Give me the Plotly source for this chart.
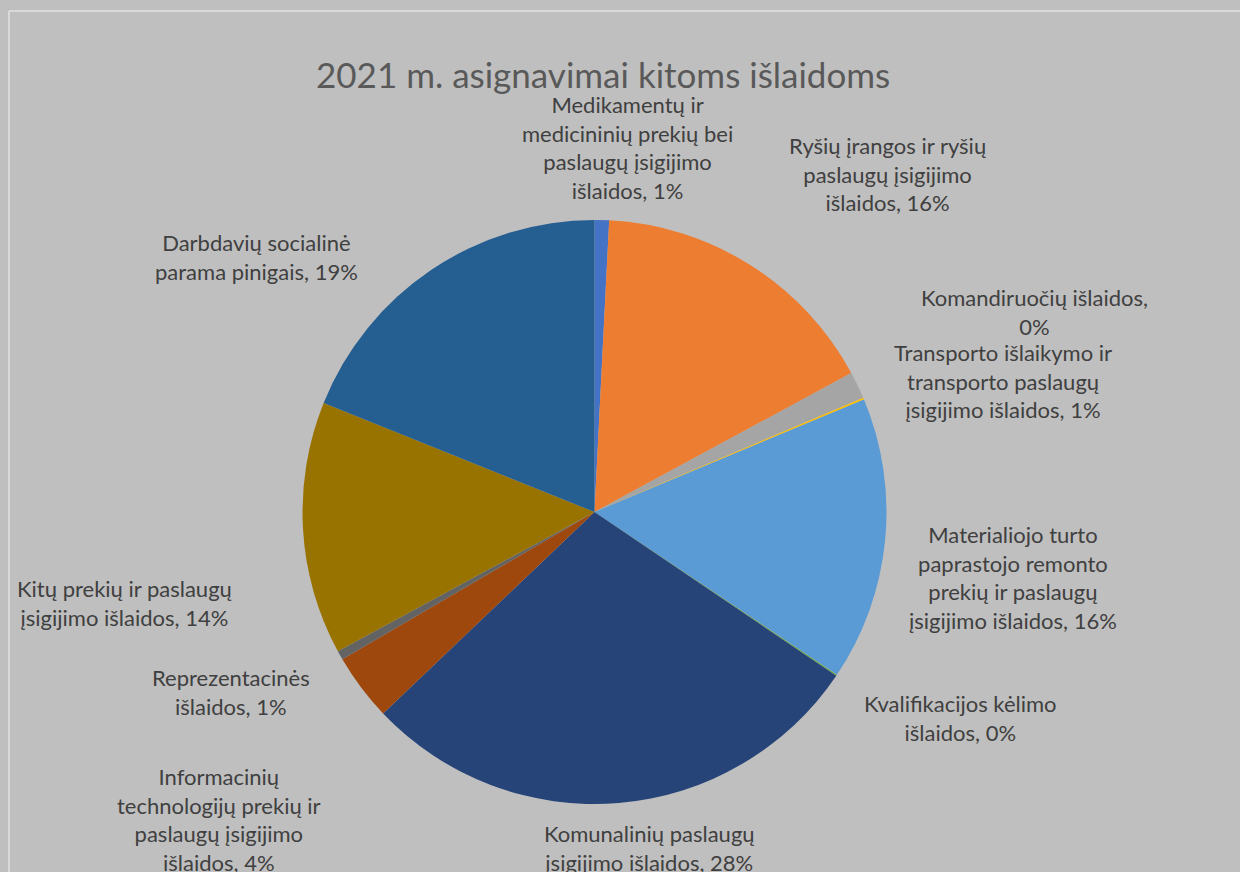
import plotly.graph_objects as go

W, H = 1240, 872

categories = [
    "Medikamentų ir medicininių prekių bei paslaugų įsigijimo išlaidos",
    "Ryšių įrangos ir ryšių paslaugų įsigijimo išlaidos",
    "Komandiruočių išlaidos",
    "Transporto išlaikymo ir transporto paslaugų įsigijimo išlaidos",
    "Materialiojo turto paprastojo remonto prekių ir paslaugų įsigijimo išlaidos",
    "Kvalifikacijos kėlimo išlaidos",
    "Komunalinių paslaugų įsigijimo išlaidos",
    "Informacinių technologijų prekių ir paslaugų įsigijimo išlaidos",
    "Reprezentacinės išlaidos",
    "Kitų prekių ir paslaugų įsigijimo išlaidos",
    "Darbdavių socialinė parama pinigais",
]
values = [0.8, 16.3, 1.5, 0.1, 15.7, 0.06, 28.4, 3.7, 0.5, 14.0, 18.9]
pct_labels = ["1%", "16%", "0%", "1%", "16%", "0%", "28%", "4%", "1%", "14%", "19%"]
wrapped_labels = [
    "Medikamentų ir<br>medicininių prekių bei<br>paslaugų įsigijimo<br>išlaidos, {}",
    "Ryšių įrangos ir ryšių<br>paslaugų įsigijimo<br>išlaidos, {}",
    "Komandiruočių išlaidos,<br>{}",
    "Transporto išlaikymo ir<br>transporto paslaugų<br>įsigijimo išlaidos, {}",
    "Materialiojo turto<br>paprastojo remonto<br>prekių ir paslaugų<br>įsigijimo išlaidos, {}",
    "Kvalifikacijos kėlimo<br>išlaidos, {}",
    "Komunalinių paslaugų<br>įsigijimo išlaidos, {}",
    "Informacinių<br>technologijų prekių ir<br>paslaugų įsigijimo<br>išlaidos, {}",
    "Reprezentacinės<br>išlaidos, {}",
    "Kitų prekių ir paslaugų<br>įsigijimo išlaidos, {}",
    "Darbdavių socialinė<br>parama pinigais, {}",
]
colors = ["#4472C4", "#ED7D31", "#A5A5A5", "#FFC000", "#5B9BD5", "#70AD47",
          "#264478", "#9E480E", "#636363", "#997300", "#255E91"]

# label block centres in pixels (layout only)
label_pos = [(627, 147), (887, 174), (1034, 312), (1003, 381), (1013, 577),
             (960, 718), (649, 848), (219, 819), (231, 692), (125, 603), (256, 257)]

cx, cy, r = 594.5, 512, 292

fig = go.Figure(go.Pie(
    labels=categories,
    values=values,
    sort=False,
    direction="clockwise",
    rotation=0,
    textinfo="none",
    marker=dict(colors=colors, line=dict(width=0)),
    showlegend=False,
    domain=dict(x=[(cx - r) / W, (cx + r) / W], y=[(H - cy - r) / H, (H - cy + r) / H]),
))

annotations = [dict(
    text="2021 m. asignavimai kitoms išlaidoms",
    x=603 / W, y=1 - 74 / H, xref="paper", yref="paper",
    xanchor="center", yanchor="middle", showarrow=False,
    font=dict(family="Lato", size=35, color="#595959"),
)]
for txt, pct, (px, py) in zip(wrapped_labels, pct_labels, label_pos):
    annotations.append(dict(
        text=txt.format(pct), x=px / W, y=1 - py / H, xref="paper", yref="paper",
        xanchor="center", yanchor="middle", showarrow=False, align="center",
        font=dict(family="Lato", size=22, color="#404040"),
    ))

fig.update_layout(
    width=W, height=H,
    margin=dict(l=0, r=0, t=0, b=0),
    paper_bgcolor="#BFBFBF",
    plot_bgcolor="#BFBFBF",
    annotations=annotations,
    shapes=[
        dict(type="line", xref="paper", yref="paper", x0=9 / W, x1=1.05, y0=1 - 11 / H, y1=1 - 11 / H,
             line=dict(color="#D9D9D9", width=2)),
        dict(type="line", xref="paper", yref="paper", x0=9 / W, x1=9 / W, y0=1 - 11 / H, y1=-0.05,
             line=dict(color="#D9D9D9", width=2)),
    ],
)

fig.write_html("out.html", config={"displayModeBar": False},
               post_script="document.body.style.margin='0';document.body.style.overflow='hidden';")
